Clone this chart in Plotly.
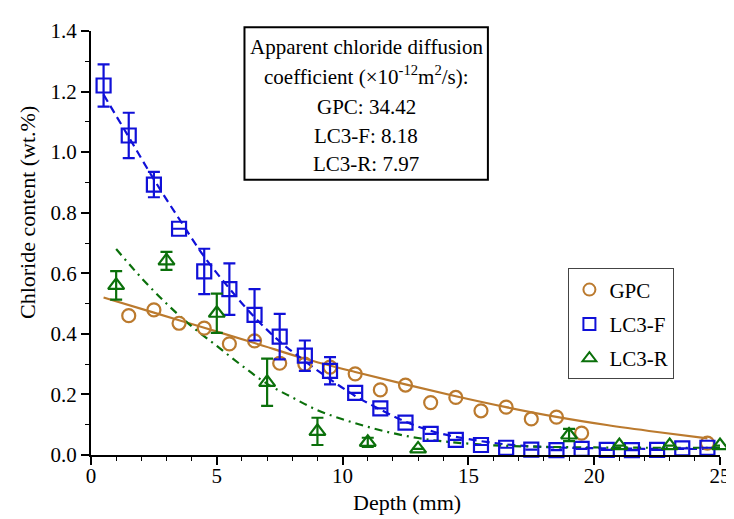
import plotly.graph_objects as go

# ---------------- data ----------------
gpc_x = [1.5, 2.5, 3.5, 4.5, 5.5, 6.5, 7.5, 8.5, 9.5, 10.5, 11.5, 12.5, 13.5, 14.5, 15.5, 16.5, 17.5, 18.5, 19.5, 24.5]
gpc_y = [0.46, 0.479, 0.435, 0.419, 0.367, 0.377, 0.303, 0.30, 0.29, 0.268, 0.215, 0.231, 0.173, 0.19, 0.146, 0.158, 0.119, 0.125, 0.072, 0.039]

lc3f_x = [0.5, 1.5, 2.5, 3.5, 4.5, 5.5, 6.5, 7.5, 8.5, 9.5, 10.5, 11.5, 12.5, 13.5, 14.5, 15.5, 16.5, 17.5, 18.5, 19.5, 20.5, 21.5, 22.5, 23.5, 24.5]
lc3f_y = [1.22, 1.055, 0.893, 0.747, 0.606, 0.548, 0.463, 0.391, 0.328, 0.278, 0.205, 0.154, 0.107, 0.07, 0.05, 0.033, 0.024, 0.018, 0.016, 0.02, 0.017, 0.016, 0.017, 0.022, 0.024]
lc3f_err = [0.07, 0.075, 0.042, 0.0, 0.075, 0.085, 0.085, 0.075, 0.05, 0.045, 0, 0, 0, 0, 0, 0, 0, 0, 0, 0, 0, 0, 0, 0, 0]

lc3r_x = [1, 3, 5, 7, 9, 11, 13, 19, 21, 23, 25]
lc3r_y = [0.56, 0.641, 0.468, 0.24, 0.078, 0.042, 0.02, 0.066, 0.031, 0.031, 0.031]
lc3r_err = [0.047, 0.03, 0.065, 0.078, 0.045, 0.015, 0.0, 0.02, 0.0, 0.0, 0.0]

# fitted curves
gpc_fit_x = [0.5, 2.5, 4.5, 6.5, 8.5, 10.5, 12.5, 14.5, 16.5, 18.5, 20.5, 22.5, 24.5]
gpc_fit_y = [0.52, 0.47, 0.42, 0.37, 0.318, 0.274, 0.233, 0.194, 0.158, 0.126, 0.099, 0.076, 0.055]

lc3f_fit_x = [0.5, 1.5, 2.5, 3.5, 4.5, 5.5, 6.5, 7.5, 8.5, 9.5, 10.5, 11.5, 12.5, 13.5, 14.5, 16.5, 18.5, 20.5, 22.5, 24.5]
lc3f_fit_y = [1.19, 1.05, 0.91, 0.78, 0.655, 0.55, 0.455, 0.375, 0.31, 0.25, 0.195, 0.15, 0.11, 0.08, 0.06, 0.035, 0.025, 0.022, 0.02, 0.02]

lc3r_fit_x = [1, 2, 3, 4, 5, 6, 7, 8, 9, 10, 11, 12, 13, 14, 16, 18, 20, 22, 25]
lc3r_fit_y = [0.68, 0.585, 0.5, 0.425, 0.36, 0.295, 0.235, 0.19, 0.148, 0.118, 0.093, 0.072, 0.056, 0.045, 0.032, 0.027, 0.025, 0.024, 0.024]

x_ticks = [0, 5, 10, 15, 20, 25]
y_ticks = [0.0, 0.2, 0.4, 0.6, 0.8, 1.0, 1.2, 1.4]

box_lines = ["Apparent chloride diffusion",
             "coefficient (×10<sup>-12</sup>m<sup>2</sup>/s):",
             "GPC: 34.42",
             "LC3-F: 8.18",
             "LC3-R: 7.97"]

# ---------------- style ----------------
C_GPC = "#bb7a2e"
C_F = "#1010d8"
C_R = "#0b700b"
FONT = "Liberation Serif"

fig = go.Figure()

# fit lines
fig.add_trace(go.Scatter(x=gpc_fit_x, y=gpc_fit_y, mode="lines", line=dict(color=C_GPC, width=2.2, shape="spline"),
                         showlegend=False, hoverinfo="skip"))
fig.add_trace(go.Scatter(x=lc3f_fit_x, y=lc3f_fit_y, mode="lines",
                         line=dict(color=C_F, width=2.2, dash="8px,5px", shape="spline"),
                         showlegend=False, hoverinfo="skip"))
fig.add_trace(go.Scatter(x=lc3r_fit_x, y=lc3r_fit_y, mode="lines",
                         line=dict(color=C_R, width=2.2, dash="8px,5px,2px,5px", shape="spline"),
                         showlegend=False, hoverinfo="skip"))

# markers
fig.add_trace(go.Scatter(x=gpc_x, y=gpc_y, mode="markers", name="GPC", legendgroup="a",
                         marker=dict(symbol="circle-open", size=13, color=C_GPC, line=dict(width=2.2, color=C_GPC)),
                         cliponaxis=False))
fig.add_trace(go.Scatter(x=lc3f_x, y=lc3f_y, mode="markers", name="LC3-F", legendgroup="b",
                         marker=dict(symbol="square-open", size=14, color=C_F, line=dict(width=2.2, color=C_F)),
                         error_y=dict(type="data", array=lc3f_err, color=C_F, thickness=2.2, width=6),
                         cliponaxis=False))
fig.add_trace(go.Scatter(x=lc3r_x, y=lc3r_y, mode="markers", name="LC3-R", legendgroup="c",
                         marker=dict(symbol="triangle-up-open", size=14, color=C_R, line=dict(width=2.2, color=C_R)),
                         error_y=dict(type="data", array=lc3r_err, color=C_R, thickness=2.2, width=6),
                         cliponaxis=False))

axis_common = dict(showline=True, linecolor="black", linewidth=2, ticks="outside", ticklen=8, tickwidth=1.5,
                   tickcolor="black", showgrid=False, zeroline=False, mirror=False,
                   tickfont=dict(family=FONT, size=21, color="black"))

fig.update_xaxes(range=[0, 25], tickvals=x_ticks, ticktext=[str(v) for v in x_ticks],
                 minor=dict(dtick=1, ticks="outside", ticklen=4, tickwidth=1.2, tickcolor="black"),
                 ticklabelstandoff=-7,
                 **axis_common)
fig.update_yaxes(range=[0, 1.4], tickvals=y_ticks, ticktext=[f"{v:.1f}" for v in y_ticks],
                 minor=dict(dtick=0.1, ticks="outside", ticklen=4, tickwidth=1.2, tickcolor="black"),
                 **axis_common)

annotations = []
# axis titles
annotations.append(dict(text="Depth (mm)", xref="paper", yref="paper", x=0.502, y=-0.111,
                        showarrow=False, font=dict(family=FONT, size=22, color="black"),
                        xanchor="center", yanchor="middle"))
annotations.append(dict(text="Chloride content (wt.%)", xref="paper", yref="paper", x=-0.1, y=0.571,
                        textangle=-90, showarrow=False, font=dict(family=FONT, size=22, color="black"),
                        xanchor="center", yanchor="middle"))
# text box lines
line_y = [0.962, 0.894, 0.821, 0.752, 0.686]
for t, yy in zip(box_lines, line_y):
    annotations.append(dict(text=t, xref="paper", yref="paper", x=0.4375, y=yy, showarrow=False,
                            font=dict(family=FONT, size=21, color="black"), xanchor="center", yanchor="middle"))

fig.add_shape(type="rect", xref="paper", yref="paper", x0=0.244, x1=0.631, y0=0.649, y1=1.009,
              line=dict(color="black", width=2), fillcolor="rgba(0,0,0,0)")

fig.update_layout(
    width=734, height=519,
    margin=dict(l=83, r=11, t=23, b=72),
    plot_bgcolor="white", paper_bgcolor="white",
    font=dict(family=FONT, size=21, color="black"),
    annotations=annotations,
    legend=dict(x=0.759, y=0.44, xanchor="left", yanchor="top",
                bordercolor="#444444", borderwidth=1, bgcolor="white",
                font=dict(family=FONT, size=21, color="black"),
                itemsizing="constant", tracegroupgap=4),
)

fig.write_html("out.html")
